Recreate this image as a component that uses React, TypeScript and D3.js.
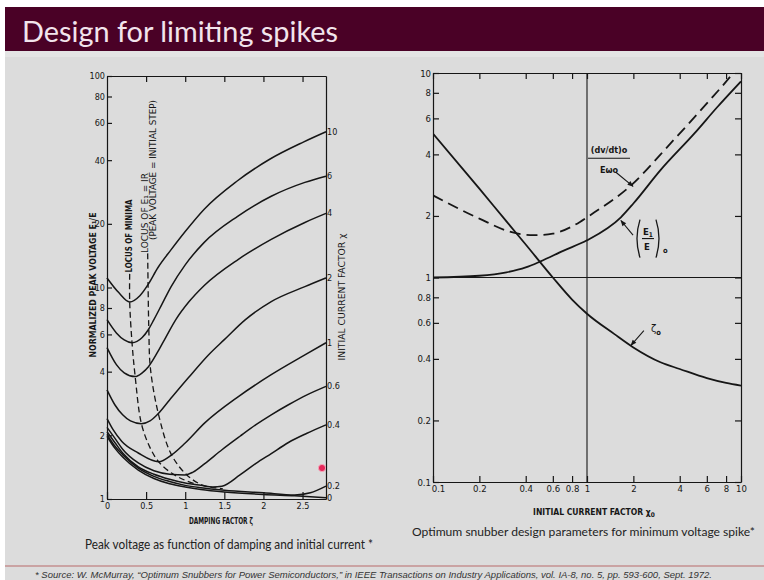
import * as d3 from 'd3'
import { useRef, useEffect } from 'react'

const W = 764
const H = 580
const INK = '#161616'
const DRAFT = "'DejaVu Sans Condensed', 'DejaVu Sans', sans-serif"
const SLIDE = "Lato, 'Open Sans', sans-serif"

const title = 'Design for limiting spikes'
const captionLeft = 'Peak voltage as function of damping and initial current *'
const captionRight = 'Optimum snubber design parameters for minimum voltage spike*'
const footnote =
  '* Source: W. McMurray, \u201cOptimum Snubbers for Power Semiconductors,\u201d in IEEE Transactions on Industry Applications, vol. IA-8, no. 5, pp. 593-600, Sept. 1972.'

// left figure: normalized peak voltage E1/E against damping factor
const dampTicks = [0, 0.5, 1, 1.5, 2, 2.5]
const peakTicks = [1, 2, 4, 6, 8, 10, 20, 40, 60, 80, 100]

// one curve per initial current factor, [damping, peak voltage]
const chi10 = [[0, 11.1], [0.15, 9.46], [0.29, 8.55], [0.42, 9.15], [0.53, 10.4], [0.65, 12.4], [0.82, 15.1], [1.0, 18.4], [1.24, 23.4], [1.66, 31.8], [2.08, 40.4], [2.51, 48.7], [2.8, 54.5]]
const chi6 = [[0, 7.05], [0.12, 6.1], [0.22, 5.65], [0.32, 5.48], [0.45, 5.8], [0.53, 6.33], [0.6, 7.05], [0.7, 8.3], [0.82, 10.1], [1.0, 12.8], [1.24, 16.3], [1.67, 21.7], [2.1, 27.0], [2.53, 31.4], [2.8, 33.6]]
const chi4 = [[0, 5.2], [0.12, 4.32], [0.22, 3.95], [0.36, 3.79], [0.45, 3.95], [0.53, 4.22], [0.65, 4.97], [0.75, 5.8], [0.88, 7.05], [1.05, 8.58], [1.24, 10.2], [1.68, 13.6], [2.1, 16.9], [2.53, 20.3], [2.8, 22.4]]
const chi2 = [[0, 3.28], [0.1, 2.79], [0.2, 2.5], [0.3, 2.34], [0.44, 2.27], [0.55, 2.34], [0.64, 2.5], [0.8, 2.94], [1.04, 3.74], [1.3, 4.81], [1.5, 5.67], [1.77, 7.05], [2.1, 8.58], [2.53, 10.1], [2.8, 11.1]]
const chi1 = [[0, 2.4], [0.08, 2.12], [0.19, 1.87], [0.4, 1.65], [0.66, 1.5], [0.83, 1.62], [1.0, 1.84], [1.25, 2.29], [1.68, 3.05], [2.1, 3.87], [2.53, 4.8], [2.8, 5.48]]
const chi06 = [[0, 2.18], [0.1, 1.94], [0.2, 1.72], [0.4, 1.48], [0.6, 1.36], [0.8, 1.31], [1.0, 1.3], [1.1, 1.34], [1.25, 1.47], [1.47, 1.71], [1.7, 1.98], [1.9, 2.24], [2.1, 2.5], [2.32, 2.79], [2.55, 3.1], [2.8, 3.41]]
const chi04 = [[0, 2.08], [0.1, 1.85], [0.2, 1.65], [0.4, 1.42], [0.6, 1.31], [0.8, 1.24], [1.0, 1.19], [1.2, 1.16], [1.35, 1.14], [1.47, 1.15], [1.7, 1.3], [1.9, 1.47], [2.1, 1.64], [2.32, 1.85], [2.55, 2.04], [2.8, 2.24]]
const chi02 = [[0, 2.02], [0.1, 1.78], [0.2, 1.62], [0.4, 1.4], [0.6, 1.28], [0.8, 1.21], [1.0, 1.16], [1.2, 1.13], [1.5, 1.1], [2.0, 1.07], [2.4, 1.045], [2.6, 1.07], [2.8, 1.15]]
const chi0 = [[0, 1.98], [0.1, 1.74], [0.2, 1.58], [0.4, 1.37], [0.6, 1.25], [0.8, 1.18], [1.0, 1.14], [1.2, 1.11], [1.5, 1.08], [2.0, 1.05], [2.4, 1.035], [2.8, 1.015]]
const chiLabels = ['10', '6', '4', '2', '1', '0.6', '0.4', '0.2', '0']

// dashed loci, [damping, peak voltage]
const locusMinima = [[0.29, 11.6], [0.29, 8.55], [0.32, 5.48], [0.36, 3.8], [0.44, 2.27], [0.55, 1.75], [0.66, 1.5], [0.82, 1.33], [0.99, 1.23], [1.15, 1.17]]
const locusStep = [[0.52, 14.5], [0.525, 10.4], [0.535, 6.3], [0.555, 4.15], [0.66, 2.5], [0.82, 1.63], [1.02, 1.3], [1.23, 1.16], [1.48, 1.12]]

// right figure: optimum parameters against initial current factor
const chiTicks = [0.1, 0.2, 0.4, 0.6, 0.8, 1, 2, 4, 6, 8, 10]
const zetaOpt = [[0.1, 5.05], [0.2, 2.72], [0.3, 1.88], [0.4, 1.45], [0.6, 1.0], [0.8, 0.78], [1, 0.665], [1.5, 0.53], [2, 0.455], [3, 0.385], [4, 0.357], [6, 0.322], [8, 0.305], [10, 0.296]]
const e1Opt = [[0.1, 1.0], [0.2, 1.02], [0.3, 1.06], [0.4, 1.12], [0.5, 1.2], [0.7, 1.35], [1, 1.52], [1.66, 1.97], [2, 2.3], [3, 3.35], [5, 5.08], [7, 6.8], [10, 9.1]]
const dvdtOpt = [[0.1, 2.52], [0.2, 1.94], [0.32, 1.67], [0.45, 1.61], [0.6, 1.64], [0.9, 1.87], [1, 1.97], [1.93, 2.82], [3.5, 4.54], [6, 7.1], [8.9, 10], [10, 11.2]]

const styleAxis = (g, size) => {
  g.attr('font-family', DRAFT).attr('font-size', size)
  g.selectAll('line, path').attr('stroke', INK).attr('stroke-width', 1.2)
  g.selectAll('text').attr('fill', INK)
}

const vtext = (g, x, y, str, size, len, weight = 'normal') => {
  const t = g
    .append('text')
    .attr('transform', `translate(${x},${y}) rotate(-90)`)
    .attr('text-anchor', 'middle')
    .attr('dominant-baseline', 'central')
    .attr('font-size', size)
    .attr('font-weight', weight)
    .attr('fill', INK)
    .text(str)
  if (len) t.attr('textLength', len).attr('lengthAdjust', 'spacingAndGlyphs')
  return t
}

const App = () => {
  const svgRef = useRef(null)

  useEffect(() => {
    drawSlide()
  }, [])

  const drawSlide = () => {
    const svg = d3.select(svgRef.current)
    svg.selectAll('*').remove()

    svg
      .append('defs')
      .append('marker')
      .attr('id', 'tip')
      .attr('viewBox', '0 0 10 10')
      .attr('refX', 9)
      .attr('refY', 5)
      .attr('markerUnits', 'userSpaceOnUse')
      .attr('markerWidth', 8)
      .attr('markerHeight', 6)
      .attr('orient', 'auto')
      .append('path')
      .attr('d', 'M0,1 L10,5 L0,9 z')
      .attr('fill', INK)

    // slide background and title bar
    svg.append('rect').attr('width', W).attr('height', H).attr('fill', '#ffffff')
    svg.append('rect').attr('x', 5).attr('y', 7).attr('width', W - 5).attr('height', H - 7).attr('fill', '#dcdcdc')
    svg.append('rect').attr('x', 5).attr('y', 7).attr('width', W - 5).attr('height', 44).attr('fill', '#4a0126')
    svg.append('rect').attr('x', 5).attr('y', 51).attr('width', W - 5).attr('height', 6).attr('fill', '#e4e4e4')
    svg
      .append('text')
      .attr('x', 22)
      .attr('y', 42)
      .attr('font-family', SLIDE)
      .attr('font-size', 28)
      .attr('fill', '#f2e4ec')
      .attr('textLength', 316)
      .attr('lengthAdjust', 'spacingAndGlyphs')
      .text(title)

    // ---------- left figure
    const xL = d3.scaleLinear().domain([0, 2.8]).range([107, 326])
    const yL = d3.scaleLog().domain([1, 100]).range([499, 76])
    const gL = svg.append('g').attr('font-family', DRAFT).attr('fill', INK)

    gL.append('g')
      .attr('transform', `translate(0,${yL(1)})`)
      .call(d3.axisBottom(xL).tickValues(dampTicks).tickSizeInner(-7).tickSizeOuter(0).tickPadding(4).tickFormat(d => String(d)))
      .call(g => styleAxis(g, 9))
    gL.append('g')
      .attr('transform', `translate(${xL(0)},0)`)
      .call(d3.axisLeft(yL).tickValues(peakTicks).tickSizeInner(-5).tickSizeOuter(0).tickPadding(2).tickFormat(d => String(d)))
      .call(g => styleAxis(g, 9))
    gL.append('g')
      .attr('transform', `translate(0,${yL(100)})`)
      .call(d3.axisTop(xL).tickValues(dampTicks.slice(1)).tickSizeInner(-6).tickSizeOuter(0).tickFormat(() => ''))
      .call(g => styleAxis(g, 9))
    gL.append('g')
      .attr('transform', `translate(${xL(2.8)},0)`)
      .call(d3.axisRight(yL).tickValues([]).tickSizeOuter(0))
      .call(g => styleAxis(g, 9))

    const lineL = d3
      .line()
      .x(d => xL(d[0]))
      .y(d => yL(d[1]))
      .curve(d3.curveMonotoneX)

    const peakCurves = [chi10, chi6, chi4, chi2, chi1, chi06, chi04, chi02, chi0]
    peakCurves.forEach((pts, i) => {
      gL.append('path').attr('d', lineL(pts)).attr('fill', 'none').attr('stroke', INK).attr('stroke-width', 1.5)
      const last = pts[pts.length - 1]
      gL.append('text')
        .attr('x', xL(2.8) + 1)
        .attr('y', yL(last[1]))
        .attr('dominant-baseline', 'central')
        .attr('font-size', 9)
        .text(chiLabels[i])
    })

    const locusLine = d3
      .line()
      .x(d => xL(d[0]))
      .y(d => yL(d[1]))
      .curve(d3.curveCatmullRom)
    ;[locusMinima, locusStep].forEach(pts => {
      gL.append('path')
        .attr('d', locusLine(pts))
        .attr('fill', 'none')
        .attr('stroke', INK)
        .attr('stroke-width', 1.3)
        .attr('stroke-dasharray', '6,3.5')
    })

    vtext(gL, xL(0.29), 236, 'LOCUS OF MINIMA', 8, 73, 'bold')
    vtext(gL, xL(0.49), 213, 'LOCUS OF E\u2081 = IR', 8, 80)
    vtext(gL, xL(0.6), 170, '(PEAK VOLTAGE = INITIAL STEP)', 8, 140)
    vtext(gL, 93, 285, 'NORMALIZED PEAK VOLTAGE E\u2081/E', 8, 145, 'bold')
    vtext(gL, 342, 297, 'INITIAL CURRENT FACTOR \u03c7', 8.5, 127)
    gL.append('text')
      .attr('x', 221)
      .attr('y', 524)
      .attr('text-anchor', 'middle')
      .attr('font-size', 8.5)
      .attr('font-weight', 'bold')
      .attr('textLength', 64)
      .attr('lengthAdjust', 'spacingAndGlyphs')
      .text('DAMPING FACTOR \u03b6')

    // pointer dot visible on the slide
    svg.append('circle').attr('cx', 322).attr('cy', 468).attr('r', 3.6).attr('fill', '#e6285a').attr('stroke', '#f4a4b8').attr('stroke-width', 1)

    // ---------- right figure
    const xR = d3.scaleLog().domain([0.1, 10]).range([433, 741])
    const yR = d3.scaleLog().domain([0.1, 10]).range([482, 73])
    const gR = svg.append('g').attr('font-family', DRAFT).attr('fill', INK)
    const fmt = d => String(d)

    gR.append('g')
      .attr('transform', `translate(0,${yR(0.1)})`)
      .call(d3.axisBottom(xR).tickValues(chiTicks).tickSizeInner(-6).tickSizeOuter(0).tickPadding(3).tickFormat(fmt))
      .call(g => styleAxis(g, 9.5))
      .call(g => g.selectAll('.tick text').filter(d => d === 0.1).attr('dx', 5))
    gR.append('g')
      .attr('transform', `translate(${xR(0.1)},0)`)
      .call(d3.axisLeft(yR).tickValues(chiTicks).tickSizeInner(-6).tickSizeOuter(0).tickPadding(2).tickFormat(fmt))
      .call(g => styleAxis(g, 9.5))
    gR.append('g')
      .attr('transform', `translate(0,${yR(10)})`)
      .call(d3.axisTop(xR).tickValues(chiTicks).tickSizeInner(-6).tickSizeOuter(0).tickFormat(() => ''))
      .call(g => styleAxis(g, 9.5))
    gR.append('g')
      .attr('transform', `translate(${xR(10)},0)`)
      .call(d3.axisRight(yR).tickValues(chiTicks).tickSizeInner(-6).tickSizeOuter(0).tickFormat(() => ''))
      .call(g => styleAxis(g, 9.5))

    // reference lines at unity
    gR.append('line').attr('x1', xR(1)).attr('x2', xR(1)).attr('y1', yR(10)).attr('y2', yR(0.1)).attr('stroke', INK).attr('stroke-width', 1.1)
    gR.append('line').attr('x1', xR(0.1)).attr('x2', xR(10)).attr('y1', yR(1)).attr('y2', yR(1)).attr('stroke', INK).attr('stroke-width', 1.1)

    gR.append('clipPath').attr('id', 'plotR').append('rect').attr('x', xR(0.1)).attr('y', yR(10)).attr('width', xR(10) - xR(0.1)).attr('height', yR(0.1) - yR(10))

    const lineR = d3
      .line()
      .x(d => xR(d[0]))
      .y(d => yR(d[1]))
      .curve(d3.curveMonotoneX)
    const curvesR = gR.append('g').attr('clip-path', 'url(#plotR)')
    curvesR.append('path').attr('d', lineR(zetaOpt)).attr('fill', 'none').attr('stroke', INK).attr('stroke-width', 1.8)
    curvesR.append('path').attr('d', lineR(e1Opt)).attr('fill', 'none').attr('stroke', INK).attr('stroke-width', 1.8)
    curvesR.append('path').attr('d', lineR(dvdtOpt)).attr('fill', 'none').attr('stroke', INK).attr('stroke-width', 1.8).attr('stroke-dasharray', '11,6')

    const arrow = (from, to) =>
      gR.append('line')
        .attr('x1', xR(from[0]))
        .attr('y1', yR(from[1]))
        .attr('x2', xR(to[0]))
        .attr('y2', yR(to[1]))
        .attr('stroke', INK)
        .attr('stroke-width', 1.1)
        .attr('marker-end', 'url(#tip)')

    // (dv/dt)o / E wo label
    const fx = xR(1.39)
    gR.append('text').attr('x', fx).attr('y', yR(4.19)).attr('text-anchor', 'middle').attr('dominant-baseline', 'central').attr('font-size', 9).attr('font-weight', 'bold').text('(dv/dt)o')
    gR.append('line').attr('x1', fx - 21).attr('x2', fx + 21).attr('y1', yR(3.83)).attr('y2', yR(3.83)).attr('stroke', INK).attr('stroke-width', 1.2)
    gR.append('text').attr('x', fx).attr('y', yR(3.34)).attr('text-anchor', 'middle').attr('dominant-baseline', 'central').attr('font-size', 9).attr('font-weight', 'bold').text('E\u03c9o')
    arrow([1.54, 3.27], [1.99, 2.79])

    // (E1/E)o label
    const ex = xR(2.08)
    const ey = yR(1.55)
    gR.append('path')
      .attr('d', `M${ex + 4},${ey - 19} Q${ex - 2},${ey} ${ex + 4},${ey + 19}`)
      .attr('fill', 'none')
      .attr('stroke', INK)
      .attr('stroke-width', 1.3)
    gR.append('path')
      .attr('d', `M${ex + 20},${ey - 19} Q${ex + 26},${ey} ${ex + 20},${ey + 19}`)
      .attr('fill', 'none')
      .attr('stroke', INK)
      .attr('stroke-width', 1.3)
    const e1 = gR.append('text').attr('x', ex + 7).attr('y', ey - 4).attr('font-size', 9.5).attr('font-weight', 'bold')
    e1.append('tspan').text('E')
    e1.append('tspan').attr('font-size', 6.5).attr('dy', 2).text('1')
    gR.append('line').attr('x1', ex + 6).attr('x2', ex + 18).attr('y1', ey).attr('y2', ey).attr('stroke', INK).attr('stroke-width', 1.1)
    gR.append('text').attr('x', ex + 8).attr('y', ey + 11).attr('font-size', 9.5).attr('font-weight', 'bold').text('E')
    gR.append('text').attr('x', ex + 27).attr('y', ey + 14).attr('font-size', 7.5).attr('font-weight', 'bold').text('o')
    arrow([1.99, 1.61], [1.66, 1.9])

    // zeta o label
    const zl = gR.append('text').attr('x', xR(2.6)).attr('y', yR(0.54)).attr('font-size', 11)
    zl.append('tspan').text('\u03b6')
    zl.append('tspan').attr('font-size', 7.5).attr('dy', 3).attr('font-weight', 'bold').text('o')
    arrow([2.34, 0.55], [1.93, 0.466])

    const xt = gR.append('text').attr('x', 594).attr('y', 515).attr('text-anchor', 'middle').attr('font-size', 8.5).attr('font-weight', 'bold')
    xt.append('tspan').text('INITIAL CURRENT FACTOR \u03c7')
    xt.append('tspan').attr('font-size', 6.5).attr('dy', 2).text('0')

    // captions and source note
    svg.append('text').attr('x', 85).attr('y', 549).attr('font-family', SLIDE).attr('font-size', 12.5).attr('fill', '#222')
      .attr('textLength', 288).attr('lengthAdjust', 'spacingAndGlyphs').text(captionLeft)
    svg.append('text').attr('x', 755).attr('y', 536).attr('text-anchor', 'end').attr('font-family', SLIDE).attr('font-size', 12).attr('fill', '#222')
      .attr('textLength', 343).attr('lengthAdjust', 'spacingAndGlyphs').text(captionRight)
    svg.append('line').attr('x1', 5).attr('x2', W).attr('y1', 566).attr('y2', 566).attr('stroke', '#b86a6a').attr('stroke-width', 1)
    svg.append('text').attr('x', 35).attr('y', 578).attr('font-family', "'Liberation Sans', Arial, sans-serif").attr('font-style', 'italic')
      .attr('font-size', 8.5).attr('fill', '#333').attr('textLength', 677).attr('lengthAdjust', 'spacingAndGlyphs').text(footnote)
  }

  return <svg ref={svgRef} width={W} height={H} style={{ position: 'absolute', left: 0, top: 0, display: 'block' }} />
}

export default App
